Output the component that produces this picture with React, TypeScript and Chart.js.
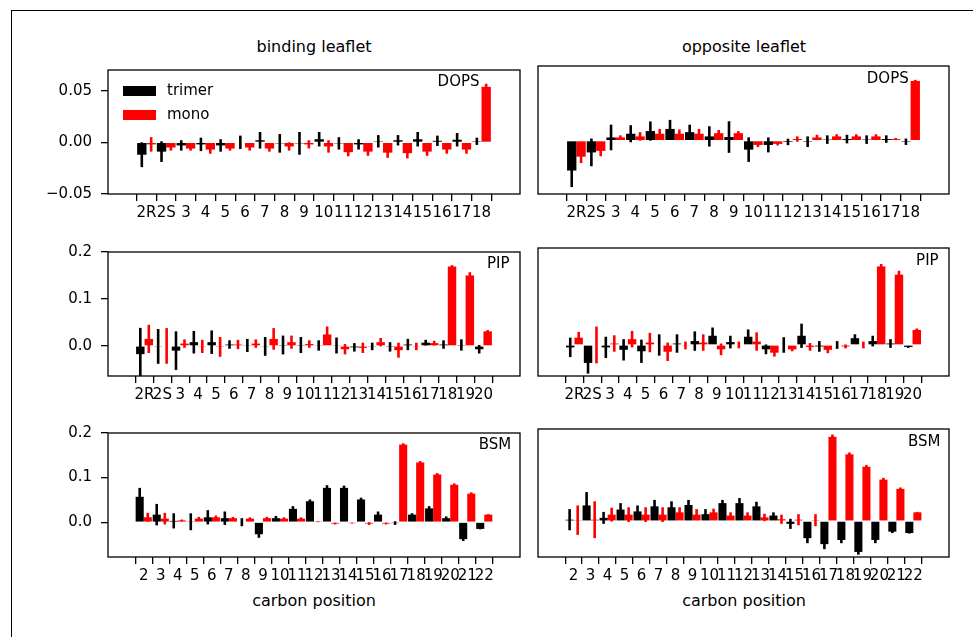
import React, { useEffect, useRef } from 'react';
import { Chart, registerables } from 'chart.js';

Chart.register(...registerables);

const FONT = '"DejaVu Sans", "Liberation Sans", sans-serif';

// ---------- categories ----------
const dopsLabels = ['2R', '2S', '3', '4', '5', '6', '7', '8', '9', '10', '11', '12', '13', '14', '15', '16', '17', '18'];
const pipLabels = ['2R', '2S', '3', '4', '5', '6', '7', '8', '9', '10', '11', '12', '13', '14', '15', '16', '17', '18', '19', '20'];
const bsmLabels = ['2', '3', '4', '5', '6', '7', '8', '9', '10', '11', '12', '13', '14', '15', '16', '17', '18', '19', '20', '21', '22'];

// ---------- y tick labels ----------
const dopsYTicks = [-0.05, 0, 0.05];
const pipYTicks = [0, 0.1, 0.2];
const bsmYTicks = [0, 0.1, 0.2];

// ---------- DOPS, binding leaflet ----------
const dopsBindTrimer = [-0.012, -0.009, -0.003, -0.002, -0.003, 0.0, 0.002, -0.001, -0.001, 0.003, -0.001, -0.002, 0.001, 0.002, 0.003, 0.0015, 0.0025, 0.001];
const dopsBindTrimerErr = [0.012, 0.01, 0.005, 0.0065, 0.006, 0.0065, 0.008, 0.009, 0.011, 0.007, 0.006, 0.005, 0.006, 0.005, 0.007, 0.005, 0.0065, 0.0035];
const dopsBindMono = [-0.002, -0.005, -0.006, -0.007, -0.006, -0.005, -0.006, -0.004, -0.002, -0.004, -0.0095, -0.009, -0.01, -0.0105, -0.009, -0.007, -0.007, 0.0537];
const dopsBindMonoErr = [0.007, 0.003, 0.002, 0.004, 0.002, 0.003, 0.003, 0.004, 0.004, 0.006, 0.004, 0.004, 0.005, 0.005, 0.004, 0.004, 0.004, 0.003];

// ---------- DOPS, opposite leaflet ----------
const dopsOppTrimer = [-0.028, -0.011, 0.003, 0.0065, 0.009, 0.011, 0.008, 0.004, 0.0034, -0.0084, -0.004, -0.0012, -0.001, 0.001, 0.0015, 0.001, 0.0015, -0.001];
const dopsOppTrimerErr = [0.0155, 0.013, 0.012, 0.008, 0.009, 0.0085, 0.007, 0.0095, 0.0148, 0.0115, 0.007, 0.003, 0.005, 0.004, 0.004, 0.004, 0.0035, 0.003];
const dopsOppMono = [-0.015, -0.0096, 0.003, 0.004, 0.0065, 0.0065, 0.0065, 0.007, 0.007, -0.004, -0.003, 0.0015, 0.003, 0.004, 0.004, 0.004, 0.0015, 0.056];
const dopsOppMonoErr = [0.006, 0.005, 0.002, 0.004, 0.0045, 0.004, 0.0045, 0.003, 0.002, 0.002, 0.0015, 0.0025, 0.0025, 0.002, 0.002, 0.002, 0.001, 0.001];

// ---------- PIP, binding leaflet ----------
const pipBindTrimer = [-0.0175, -0.001, -0.01, 0.008, 0.008, 0.003, 0.001, -0.001, 0.002, 0.002, 0.001, 0.001, -0.003, -0.001, -0.002, 0.003, 0.007, 0.003, 0.002, -0.007];
const pipBindTrimerErr = [0.056, 0.037, 0.041, 0.024, 0.025, 0.009, 0.014, 0.02, 0.02, 0.017, 0.011, 0.017, 0.009, 0.008, 0.01, 0.012, 0.006, 0.009, 0.012, 0.009];
const pipBindMono = [0.015, 0.0, 0.005, -0.001, -0.002, 0.003, 0.005, 0.015, 0.008, 0.004, 0.0245, -0.007, -0.004, 0.008, -0.009, -0.001, 0.006, 0.169, 0.15, 0.031];
const pipBindMonoErr = [0.03, 0.038, 0.009, 0.014, 0.021, 0.01, 0.009, 0.023, 0.014, 0.008, 0.017, 0.011, 0.011, 0.009, 0.016, 0.008, 0.005, 0.003, 0.007, 0.003];

// ---------- PIP, opposite leaflet ----------
const pipOppTrimer = [-0.005, -0.037, -0.005, -0.01, -0.013, 0.0, 0.003, 0.008, 0.019, 0.006, 0.017, -0.009, 0.0, 0.019, -0.003, 0.0, 0.014, 0.008, 0.003, -0.004];
const pipOppTrimerErr = [0.02, 0.022, 0.022, 0.022, 0.024, 0.022, 0.019, 0.02, 0.017, 0.013, 0.015, 0.01, 0.016, 0.025, 0.011, 0.008, 0.008, 0.011, 0.009, 0.002];
const pipOppMono = [0.015, 0.0, 0.003, 0.012, 0.005, -0.014, -0.001, 0.005, -0.009, 0.0, 0.007, -0.016, -0.009, -0.004, -0.01, -0.003, 0.0, 0.162, 0.145, 0.031];
const pipOppMonoErr = [0.012, 0.038, 0.017, 0.017, 0.02, 0.019, 0.008, 0.017, 0.012, 0.007, 0.019, 0.008, 0.004, 0.008, 0.007, 0.004, 0.007, 0.005, 0.008, 0.003];

// ---------- BSM, binding leaflet ----------
const bsmBindTrimer = [0.057, 0.017, 0.003, 0.001, 0.011, 0.009, 0.0, -0.027, 0.009, 0.03, 0.047, 0.077, 0.077, 0.051, 0.017, -0.002, 0.017, 0.031, 0.009, -0.038, -0.015];
const bsmBindTrimerErr = [0.02, 0.024, 0.017, 0.019, 0.016, 0.015, 0.009, 0.008, 0.005, 0.006, 0.004, 0.006, 0.005, 0.004, 0.007, 0.004, 0.003, 0.005, 0.004, 0.004, 0.001];
const bsmBindMono = [0.011, 0.008, 0.004, 0.008, 0.011, 0.009, 0.008, 0.009, 0.008, 0.008, 0.001, -0.003, -0.002, -0.003, -0.003, 0.174, 0.134, 0.107, 0.084, 0.064, 0.017];
const bsmBindMonoErr = [0.01, 0.013, 0.002, 0.004, 0.004, 0.003, 0.003, 0.003, 0.003, 0.003, 0.001, 0.002, 0.001, 0.003, 0.002, 0.003, 0.003, 0.003, 0.003, 0.003, 0.001];

// ---------- BSM, opposite leaflet ----------
const bsmOppTrimer = [0.003, 0.034, 0.007, 0.025, 0.021, 0.032, 0.03, 0.035, 0.015, 0.039, 0.039, 0.032, 0.012, -0.006, -0.037, -0.05, -0.041, -0.067, -0.041, -0.023, -0.026];
const bsmOppTrimerErr = [0.023, 0.029, 0.013, 0.014, 0.013, 0.014, 0.013, 0.011, 0.011, 0.007, 0.011, 0.01, 0.007, 0.011, 0.011, 0.011, 0.007, 0.006, 0.007, 0.003, 0.001];
const bsmOppMono = [0.002, 0.003, 0.014, 0.014, 0.014, 0.014, 0.019, 0.014, 0.019, 0.012, 0.012, 0.008, 0.004, 0.003, 0.002, 0.183, 0.145, 0.118, 0.09, 0.07, 0.019];
const bsmOppMonoErr = [0.032, 0.04, 0.015, 0.016, 0.016, 0.016, 0.011, 0.012, 0.008, 0.007, 0.007, 0.008, 0.01, 0.012, 0.013, 0.005, 0.004, 0.004, 0.004, 0.003, 0.001];

const seriesNames = ['trimer', 'mono'];
const seriesColors = ['#000000', '#ff0000'];

// ---------- layout ----------
const PAD_L = 100;
const PAD_T = 14;
const PAD_R = 10;
const PAD_B = 40;
const TICK_FONT = 15;

const errorBarPlugin = {
  id: 'errorBars',
  afterDatasetsDraw(chart: any) {
    const ctx = chart.ctx;
    const ys = chart.scales.y;
    const a = chart.chartArea;
    ctx.save();
    ctx.beginPath();
    ctx.rect(a.left, a.top, a.right - a.left, a.bottom - a.top);
    ctx.clip();
    chart.data.datasets.forEach((ds: any, i: number) => {
      const meta = chart.getDatasetMeta(i);
      ctx.strokeStyle = ds.backgroundColor;
      ctx.lineWidth = 2.6;
      meta.data.forEach((el: any, j: number) => {
        const v = ds.data[j].y;
        const e = ds.errors[j];
        ctx.beginPath();
        ctx.moveTo(el.x, ys.getPixelForValue(v - e));
        ctx.lineTo(el.x, ys.getPixelForValue(v + e));
        ctx.stroke();
      });
    });
    ctx.restore();
  },
};

const decoPlugin = {
  id: 'deco',
  afterDraw(chart: any, _args: any, opts: any) {
    const ctx = chart.ctx;
    const a = chart.chartArea;
    const w = a.right - a.left;
    const h = a.bottom - a.top;
    ctx.save();
    // axes box
    ctx.strokeStyle = '#000';
    ctx.lineWidth = 1.3;
    ctx.strokeRect(a.left, a.top, w, h);
    // panel tag
    ctx.fillStyle = '#000';
    ctx.font = `${TICK_FONT}px ${FONT}`;
    ctx.textAlign = 'left';
    ctx.textBaseline = 'middle';
    ctx.fillText(opts.tag, a.left + opts.tagX * w, a.top + 0.1 * h);
    // legend
    if (opts.legend) {
      seriesNames.forEach((name, i) => {
        const cy = a.top + 21 + i * 24;
        ctx.fillStyle = seriesColors[i];
        ctx.fillRect(a.left + 15, cy - 5, 33, 10);
        ctx.fillStyle = '#000';
        ctx.fillText(name, a.left + 59, cy);
      });
    }
    ctx.restore();
  },
};

type PanelProps = {
  labels: string[];
  trimer: number[];
  trimerErr: number[];
  mono: number[];
  monoErr: number[];
  yMin: number;
  yMax: number;
  yTicks: number[];
  yDecimals: number;
  showY: boolean;
  tag: string;
  tagX: number;
  legend: boolean;
  x0: number;
  y0: number;
  w: number;
  h: number;
};

function fmt(v: number, d: number) {
  const s = Number(v).toFixed(d);
  return s.startsWith('-') ? '\u2212' + s.slice(1) : s;
}

function Panel(p: PanelProps) {
  const ref = useRef<HTMLCanvasElement | null>(null);
  const cw = p.w + PAD_L + PAD_R;
  const ch = p.h + PAD_T + PAD_B;
  useEffect(() => {
    if (!ref.current) return;
    const n = p.labels.length;
    const half = 0.475;
    const span = n - 1 + 2 * half;
    const xMin = -half - 0.05 * span;
    const xMax = n - 1 + half + 0.05 * span;
    const tickFont = { family: FONT, size: TICK_FONT };
    const chart = new Chart(ref.current, {
      type: 'bar',
      data: {
        datasets: [
          {
            label: seriesNames[0],
            data: p.trimer.map((v, i) => ({ x: i, y: v })),
            backgroundColor: seriesColors[0],
            errors: p.trimerErr,
          } as any,
          {
            label: seriesNames[1],
            data: p.mono.map((v, i) => ({ x: i, y: v })),
            backgroundColor: seriesColors[1],
            errors: p.monoErr,
          } as any,
        ],
      },
      options: {
        animation: false,
        responsive: false,
        events: [],
        layout: { padding: { left: 0, top: PAD_T, right: PAD_R, bottom: 0 } },
        datasets: { bar: { categoryPercentage: 0.95, barPercentage: 1.0, borderWidth: 0 } },
        scales: {
          x: {
            type: 'linear',
            min: xMin,
            max: xMax,
            afterBuildTicks: (s: any) => {
              s.ticks = p.labels.map((_, i) => ({ value: i }));
            },
            afterFit: (s: any) => {
              s.height = PAD_B;
            },
            grid: { drawOnChartArea: false, drawTicks: true, tickLength: 7, color: '#000', lineWidth: 1.3 },
            border: { display: false },
            ticks: {
              autoSkip: false,
              maxRotation: 0,
              minRotation: 0,
              padding: 3,
              color: '#000',
              font: tickFont,
              callback: (v: any) => p.labels[Math.round(Number(v))] ?? '',
            },
          },
          y: {
            type: 'linear',
            min: p.yMin,
            max: p.yMax,
            afterBuildTicks: (s: any) => {
              s.ticks = p.yTicks.map((v) => ({ value: v }));
            },
            afterFit: (s: any) => {
              s.width = PAD_L;
            },
            grid: { drawOnChartArea: false, drawTicks: p.showY, tickLength: 7, color: '#000', lineWidth: 1.3 },
            border: { display: false },
            ticks: {
              display: p.showY,
              padding: 9,
              color: '#000',
              font: tickFont,
              callback: (v: any) => fmt(Number(v), p.yDecimals),
            },
          },
        },
        plugins: {
          legend: { display: false },
          tooltip: { enabled: false },
          deco: { tag: p.tag, tagX: p.tagX, legend: p.legend },
        } as any,
      },
      plugins: [errorBarPlugin, decoPlugin],
    } as any);
    return () => chart.destroy();
  }, []);
  return (
    <canvas
      ref={ref}
      width={cw}
      height={ch}
      style={{ position: 'absolute', left: p.x0 - PAD_L, top: p.y0 - PAD_T, width: cw, height: ch }}
    />
  );
}

const COL_X = [108, 538];
const COL_W = [412, 411];
const ROW_Y = [66, 248, 429];
const ROW_H = 128;

const textStyle = (x: number, y: number, size: number): React.CSSProperties => ({
  position: 'absolute',
  left: x,
  top: y,
  transform: 'translate(-50%, -50%)',
  fontFamily: FONT,
  fontSize: size,
  lineHeight: 1,
  whiteSpace: 'nowrap',
  color: '#000',
});

export default function App() {
  return (
    <div
      style={{
        position: 'absolute',
        left: 0,
        top: 0,
        width: 973,
        height: 637,
        background: '#fff',
        overflow: 'hidden',
      }}
    >
      <div
        style={{
          position: 'absolute',
          left: 11,
          top: 10,
          width: 973,
          height: 640,
          borderTop: '1px solid #000',
          borderLeft: '1px solid #000',
        }}
      />
      <div style={textStyle(314, 47, 16)}>binding leaflet</div>
      <div style={textStyle(744, 47, 16)}>opposite leaflet</div>
      <div style={textStyle(314, 601, 16)}>carbon position</div>
      <div style={textStyle(744, 601, 16)}>carbon position</div>

      <Panel labels={dopsLabels} trimer={dopsBindTrimer} trimerErr={dopsBindTrimerErr} mono={dopsBindMono} monoErr={dopsBindMonoErr}
        yMin={-0.05} yMax={0.07} yTicks={dopsYTicks} yDecimals={2} showY={true} tag="DOPS" tagX={0.8} legend={true}
        x0={COL_X[0]} y0={ROW_Y[0]} w={COL_W[0]} h={ROW_H} />
      <Panel labels={dopsLabels} trimer={dopsOppTrimer} trimerErr={dopsOppTrimerErr} mono={dopsOppMono} monoErr={dopsOppMonoErr}
        yMin={-0.05} yMax={0.07} yTicks={dopsYTicks} yDecimals={2} showY={false} tag="DOPS" tagX={0.8} legend={false}
        x0={COL_X[1]} y0={ROW_Y[0]} w={COL_W[1]} h={ROW_H} />
      <Panel labels={pipLabels} trimer={pipBindTrimer} trimerErr={pipBindTrimerErr} mono={pipBindMono} monoErr={pipBindMonoErr}
        yMin={-0.064} yMax={0.2} yTicks={pipYTicks} yDecimals={1} showY={true} tag="PIP" tagX={0.92} legend={false}
        x0={COL_X[0]} y0={ROW_Y[1]} w={COL_W[0]} h={ROW_H} />
      <Panel labels={pipLabels} trimer={pipOppTrimer} trimerErr={pipOppTrimerErr} mono={pipOppMono} monoErr={pipOppMonoErr}
        yMin={-0.064} yMax={0.2} yTicks={pipYTicks} yDecimals={1} showY={false} tag="PIP" tagX={0.92} legend={false}
        x0={COL_X[1]} y0={ROW_Y[1]} w={COL_W[1]} h={ROW_H} />
      <Panel labels={bsmLabels} trimer={bsmBindTrimer} trimerErr={bsmBindTrimerErr} mono={bsmBindMono} monoErr={bsmBindMonoErr}
        yMin={-0.078} yMax={0.2} yTicks={bsmYTicks} yDecimals={1} showY={true} tag="BSM" tagX={0.9} legend={false}
        x0={COL_X[0]} y0={ROW_Y[2]} w={COL_W[0]} h={ROW_H} />
      <Panel labels={bsmLabels} trimer={bsmOppTrimer} trimerErr={bsmOppTrimerErr} mono={bsmOppMono} monoErr={bsmOppMonoErr}
        yMin={-0.078} yMax={0.2} yTicks={bsmYTicks} yDecimals={1} showY={false} tag="BSM" tagX={0.9} legend={false}
        x0={COL_X[1]} y0={ROW_Y[2]} w={COL_W[1]} h={ROW_H} />
    </div>
  );
}
